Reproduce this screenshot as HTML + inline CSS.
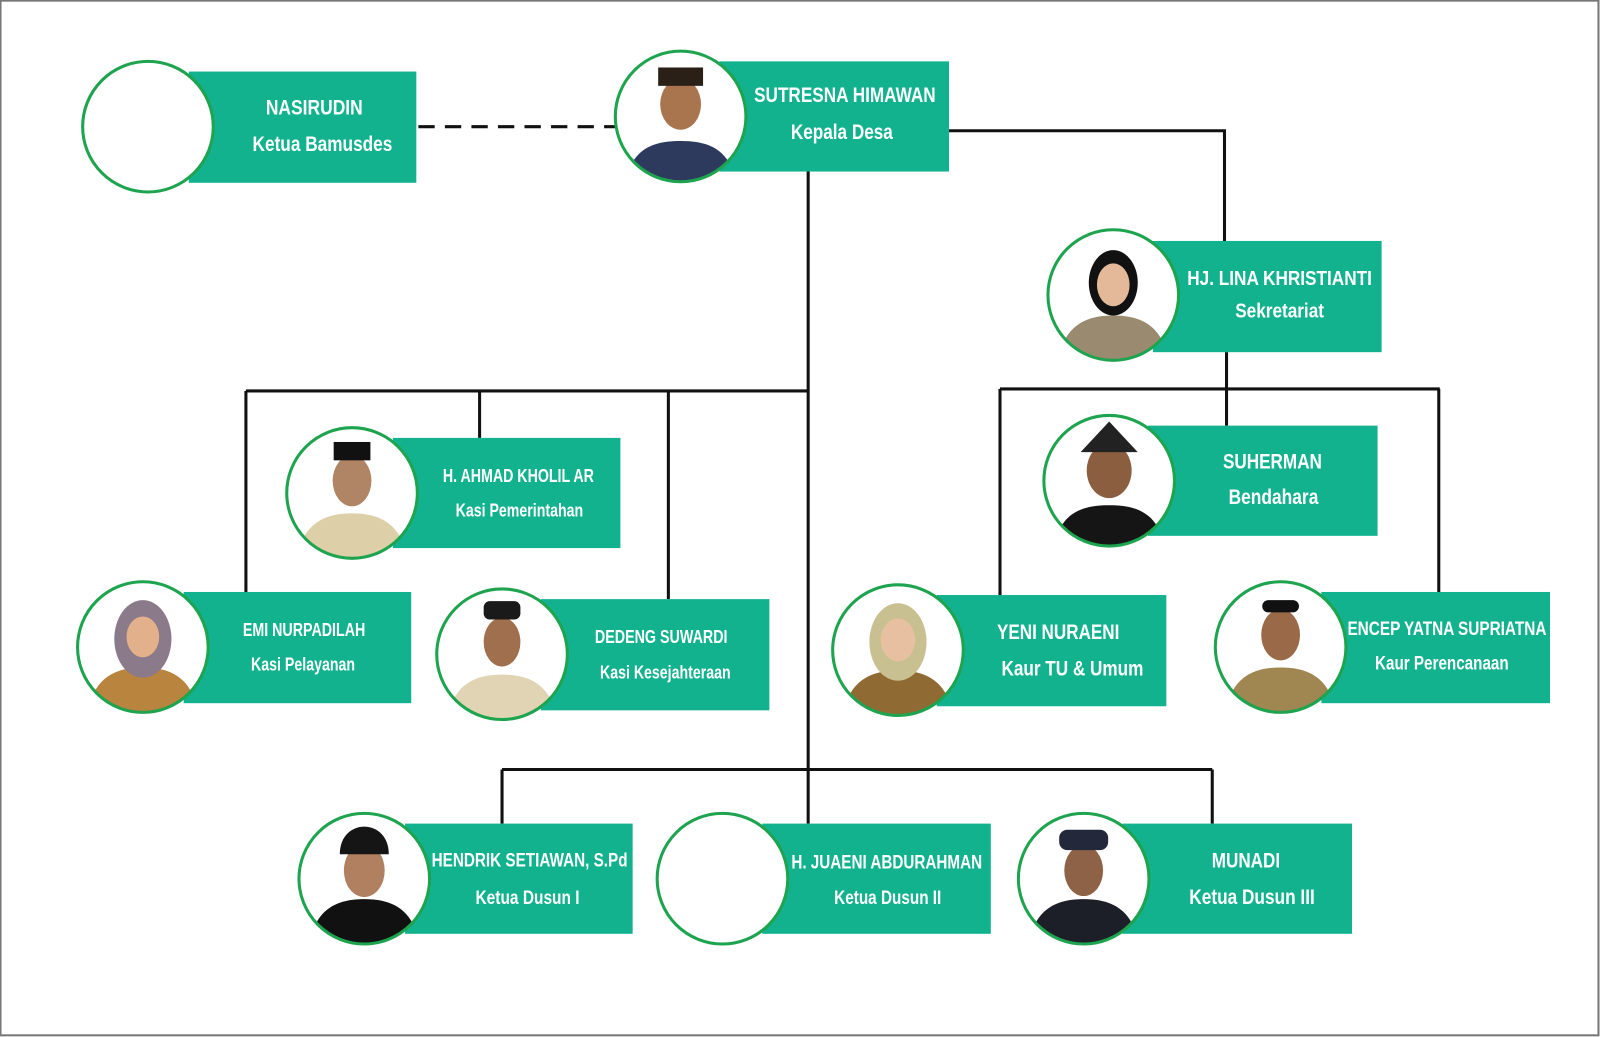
<!DOCTYPE html>
<html><head><meta charset="utf-8"><style>
html,body{margin:0;padding:0;background:#fff}
svg{display:block}
text{font-family:"Liberation Sans",sans-serif;font-weight:bold;fill:#fff;text-anchor:middle}
</style></head><body>
<svg width="1600" height="1037" viewBox="0 0 1568 1016" xmlns="http://www.w3.org/2000/svg">
<defs><clipPath id="c"><circle r="63"/></clipPath></defs>
<rect x="0.5" y="0.5" width="1566" height="1014" fill="#fff" stroke="#777" stroke-width="2"/>
<g stroke="#111" stroke-width="3" fill="none">
<line x1="410" y1="124" x2="603" y2="124" stroke-dasharray="16,10"/>
<line x1="792" y1="168" x2="792" y2="807"/>
<polyline points="930,128 1200,128 1200,236"/>
<line x1="1202" y1="345" x2="1202" y2="417"/>
<line x1="980" y1="381" x2="1411" y2="381"/>
<line x1="980" y1="381" x2="980" y2="583"/>
<line x1="1410" y1="381" x2="1410" y2="580"/>
<line x1="241" y1="383" x2="792" y2="383"/>
<line x1="241" y1="383" x2="241" y2="580"/>
<line x1="470" y1="383" x2="470" y2="429"/>
<line x1="655" y1="383" x2="655" y2="587"/>
<line x1="492" y1="754" x2="1188" y2="754"/>
<line x1="492" y1="754" x2="492" y2="807"/>
<line x1="1188" y1="754" x2="1188" y2="807"/>
</g>
<g fill="#13b28f">
<rect x="185" y="70" width="223" height="109"/>
<rect x="705" y="60" width="225" height="108"/>
<rect x="1130" y="236" width="224" height="109"/>
<rect x="385" y="429" width="223" height="108"/>
<rect x="1125" y="417" width="225" height="108"/>
<rect x="180" y="580" width="223" height="109"/>
<rect x="530" y="587" width="224" height="109"/>
<rect x="918" y="583" width="225" height="109"/>
<rect x="1295" y="580" width="224" height="109"/>
<rect x="397" y="807" width="223" height="108"/>
<rect x="747" y="807" width="224" height="108"/>
<rect x="1100" y="807" width="225" height="108"/>
</g>
<g stroke="#1ea34f" stroke-width="3" fill="#fff">
<circle cx="145" cy="124" r="64"/>
<circle cx="708" cy="861" r="64"/>
</g>
<g>
<g transform="translate(667,114)"><circle r="64" fill="#fff"/><g clip-path="url(#c)"><path d="M-55,70 C-50,30 -25,24 0,24 C25,24 50,30 55,70Z" fill="#2d3a5e"/><ellipse cy="-12" rx="20" ry="25" fill="#a8754f"/><rect x="-22" y="-48" width="44" height="18" fill="#2a2018"/></g><circle r="64" fill="none" stroke="#1ea34f" stroke-width="3"/></g>
<g transform="translate(1091,289)"><circle r="64" fill="#fff"/><g clip-path="url(#c)"><path d="M-55,70 C-50,28 -25,20 0,20 C25,20 50,28 55,70Z" fill="#9a8a70"/><ellipse cy="-12" rx="24" ry="32" fill="#111"/><ellipse cy="-10" rx="16" ry="21" fill="#e4b99a"/></g><circle r="64" fill="none" stroke="#1ea34f" stroke-width="3"/></g>
<g transform="translate(345,483)"><circle r="64" fill="#fff"/><g clip-path="url(#c)"><path d="M-55,70 C-50,28 -25,20 0,20 C25,20 50,28 55,70Z" fill="#ddcfa8"/><ellipse cy="-12" rx="19" ry="25" fill="#b08566"/><rect x="-18" y="-50" width="36" height="18" fill="#111"/></g><circle r="64" fill="none" stroke="#1ea34f" stroke-width="3"/></g>
<g transform="translate(1087,471)"><circle r="64" fill="#fff"/><g clip-path="url(#c)"><path d="M-55,70 C-50,30 -25,24 0,24 C25,24 50,30 55,70Z" fill="#151515"/><ellipse cy="-10" rx="22" ry="27" fill="#8a5e3e"/><path d="M-28,-28 L0,-58 L28,-28 Z" fill="#222"/></g><circle r="64" fill="none" stroke="#1ea34f" stroke-width="3"/></g>
<g transform="translate(140,634)"><circle r="64" fill="#fff"/><g clip-path="url(#c)"><path d="M-55,70 C-50,28 -25,20 0,20 C25,20 50,28 55,70Z" fill="#b8843e"/><ellipse cy="-8" rx="28" ry="38" fill="#8a7a8a"/><ellipse cy="-10" rx="16" ry="20" fill="#e2b08a"/></g><circle r="64" fill="none" stroke="#1ea34f" stroke-width="3"/></g>
<g transform="translate(492,641)"><circle r="64" fill="#fff"/><g clip-path="url(#c)"><path d="M-55,70 C-50,28 -25,20 0,20 C25,20 50,28 55,70Z" fill="#e0d4b4"/><ellipse cy="-12" rx="18" ry="24" fill="#a0704e"/><rect x="-18" y="-52" width="36" height="18" rx="6" fill="#1a1a1a"/></g><circle r="64" fill="none" stroke="#1ea34f" stroke-width="3"/></g>
<g transform="translate(880,637)"><circle r="64" fill="#fff"/><g clip-path="url(#c)"><path d="M-55,70 C-50,28 -25,20 0,20 C25,20 50,28 55,70Z" fill="#8f6a32"/><ellipse cy="-8" rx="28" ry="38" fill="#c8c090"/><ellipse cy="-10" rx="17" ry="21" fill="#e6c0a0"/></g><circle r="64" fill="none" stroke="#1ea34f" stroke-width="3"/></g>
<g transform="translate(1255,634)"><circle r="64" fill="#fff"/><g clip-path="url(#c)"><path d="M-55,70 C-50,28 -25,20 0,20 C25,20 50,28 55,70Z" fill="#a08650"/><ellipse cy="-12" rx="19" ry="25" fill="#9a6a48"/><rect x="-18" y="-46" width="36" height="12" rx="6" fill="#111"/></g><circle r="64" fill="none" stroke="#1ea34f" stroke-width="3"/></g>
<g transform="translate(357,861)"><circle r="64" fill="#fff"/><g clip-path="url(#c)"><path d="M-55,70 C-50,28 -25,20 0,20 C25,20 50,28 55,70Z" fill="#111"/><ellipse cy="-8" rx="20" ry="26" fill="#b08060"/><path d="M-24,-24 C-24,-60 24,-60 24,-24 Z" fill="#151515"/></g><circle r="64" fill="none" stroke="#1ea34f" stroke-width="3"/></g>
<g transform="translate(1062,861)"><circle r="64" fill="#fff"/><g clip-path="url(#c)"><path d="M-55,70 C-50,28 -25,20 0,20 C25,20 50,28 55,70Z" fill="#1c1e28"/><ellipse cy="-8" rx="19" ry="25" fill="#8e6246"/><rect x="-24" y="-48" width="48" height="20" rx="8" fill="#23283a"/></g><circle r="64" fill="none" stroke="#1ea34f" stroke-width="3"/></g>
</g>
<g font-size="21" lengthAdjust="spacingAndGlyphs">
<text x="308" y="112" textLength="95" lengthAdjust="spacingAndGlyphs">NASIRUDIN</text><text x="316" y="148" textLength="137" lengthAdjust="spacingAndGlyphs">Ketua Bamusdes</text>
<text x="828" y="100" textLength="178" lengthAdjust="spacingAndGlyphs">SUTRESNA HIMAWAN</text><text x="825" y="136" textLength="100" lengthAdjust="spacingAndGlyphs">Kepala Desa</text>
<text x="1254" y="279" font-size="20" textLength="181" lengthAdjust="spacingAndGlyphs">HJ. LINA KHRISTIANTI</text><text x="1254" y="311" font-size="20" textLength="87" lengthAdjust="spacingAndGlyphs">Sekretariat</text>
<text x="508" y="472" font-size="18" textLength="148" lengthAdjust="spacingAndGlyphs">H. AHMAD KHOLIL AR</text><text x="509" y="506" font-size="18" textLength="125" lengthAdjust="spacingAndGlyphs">Kasi Pemerintahan</text>
<text x="1247" y="459" textLength="97" lengthAdjust="spacingAndGlyphs">SUHERMAN</text><text x="1248" y="494" textLength="88" lengthAdjust="spacingAndGlyphs">Bendahara</text>
<text x="298" y="623" font-size="18" textLength="120" lengthAdjust="spacingAndGlyphs">EMI NURPADILAH</text><text x="297" y="657" font-size="18" textLength="102" lengthAdjust="spacingAndGlyphs">Kasi Pelayanan</text>
<text x="648" y="630" font-size="18" textLength="130" lengthAdjust="spacingAndGlyphs">DEDENG SUWARDI</text><text x="652" y="665" font-size="18" textLength="128" lengthAdjust="spacingAndGlyphs">Kasi Kesejahteraan</text>
<text x="1037" y="626" textLength="120" lengthAdjust="spacingAndGlyphs">YENI NURAENI</text><text x="1051" y="662" textLength="139" lengthAdjust="spacingAndGlyphs">Kaur TU &amp; Umum</text>
<text x="1418" y="622" font-size="19" textLength="195" lengthAdjust="spacingAndGlyphs">ENCEP YATNA SUPRIATNA</text><text x="1413" y="656" font-size="19" textLength="131" lengthAdjust="spacingAndGlyphs">Kaur Perencanaan</text>
<text x="519" y="849" font-size="19" textLength="192" lengthAdjust="spacingAndGlyphs">HENDRIK SETIAWAN, S.Pd</text><text x="517" y="886" font-size="19" textLength="102" lengthAdjust="spacingAndGlyphs">Ketua Dusun I</text>
<text x="869" y="851" font-size="19" textLength="187" lengthAdjust="spacingAndGlyphs">H. JUAENI ABDURAHMAN</text><text x="870" y="886" font-size="19" textLength="105" lengthAdjust="spacingAndGlyphs">Ketua Dusun II</text>
<text x="1221" y="850" textLength="67" lengthAdjust="spacingAndGlyphs">MUNADI</text><text x="1227" y="886" textLength="123" lengthAdjust="spacingAndGlyphs">Ketua Dusun III</text>
</g>
</svg>
</body></html>
